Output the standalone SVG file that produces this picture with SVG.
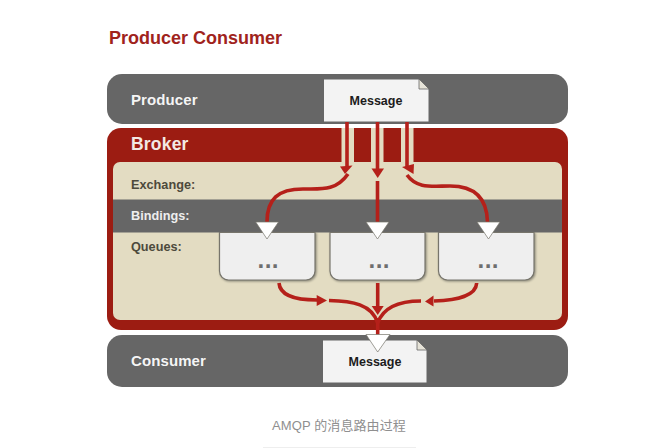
<svg xmlns="http://www.w3.org/2000/svg" width="659" height="448" viewBox="0 0 659 448">
  <style>
    text { font-family: "Liberation Sans", Arial, "Noto Sans CJK SC", sans-serif; font-weight: 700; }
    .band { fill: #666666; }
    .lane { fill: #ffffff; font-size: 15px; letter-spacing: 0.1px; fill-opacity: 0.95; }
    .row { font-size: 12.7px; fill: #4d4a3c; }
    .queue { fill: #efefef; stroke: #77756c; stroke-width: 1.2; filter: drop-shadow(1px 1px 1px #8a8778); }
    .dots { font-family: "DejaVu Sans", sans-serif; font-size: 19px; fill: #6e6e6e; text-anchor: middle; }
    .msg { fill: #f3f3f3; stroke: #666666; stroke-width: 1; }
    .fold { fill: #e6e3d8; stroke: #666666; stroke-width: 0.8; }
    .msgt { font-size: 12.5px; fill: #1c1c1c; text-anchor: middle; }
    .wire { fill: none; stroke: #b5201a; stroke-width: 3.6; }
    .head { fill: #b5201a; }
    .tip { fill: #ffffff; stroke: #77756c; stroke-width: 0.7; }
    .slot { fill: #e3dcc2; }
  </style>
  <rect width="659" height="448" fill="#ffffff"/>
  <text x="109" y="44" font-size="18" fill="#a0231c">Producer Consumer</text>

  <g id="producer">
    <rect class="band" x="107" y="74" width="461" height="50" rx="15"/>
    <text class="lane" x="131" y="105">Producer</text>
  </g>
  <g id="broker">
    <rect x="107" y="128" width="461" height="202" rx="14" fill="#9c1c12"/>
    <rect x="113" y="162" width="449" height="158" rx="7" fill="#e3dcc2"/>
    <rect class="slot" x="341.500" y="128" width="12.500" height="36"/>
    <rect class="slot" x="371" y="128" width="12.500" height="36"/>
    <rect class="slot" x="401" y="128" width="12.500" height="36"/>
    <text x="131" y="150" font-size="17.500" fill="#f3e9e4" letter-spacing="0.2">Broker</text>
  </g>
  <g id="exchange">
    <text class="row" x="131" y="189">Exchange:</text>
  </g>
  <g id="bindings">
    <rect class="band" x="113" y="199.500" width="449" height="33"/>
    <text class="row" x="131" y="220" style="fill:#eeeeee">Bindings:</text>
  </g>
  <g id="queues">
    <text class="row" x="131" y="251">Queues:</text>
  </g>
  <g id="queue-1">
    <path class="queue" d="M219.500,232.500H315V271a9,9 0 0 1 -9,9H228.500a9,9 0 0 1 -9,-9Z"/>
    <text class="dots" x="268" y="268">...</text>
  </g>
  <g id="queue-2">
    <path class="queue" d="M330,232.500H425V271a9,9 0 0 1 -9,9H339a9,9 0 0 1 -9,-9Z"/>
    <text class="dots" x="379" y="268">...</text>
  </g>
  <g id="queue-3">
    <path class="queue" d="M438.500,232.500H534V271a9,9 0 0 1 -9,9H447.500a9,9 0 0 1 -9,-9Z"/>
    <text class="dots" x="488" y="268">...</text>
  </g>
  <g id="consumer">
    <rect class="band" x="107" y="335" width="461" height="52" rx="15"/>
    <text class="lane" x="131" y="366">Consumer</text>
  </g>
  <g id="message-in">
    <path class="msg" d="M323.500,79H419L429,89V122H323.500Z"/>
    <path class="fold" d="M419,79L429,89H419Z"/>
    <text class="msgt" x="376" y="104.500">Message</text>
  </g>
  <g id="message-out">
    <path class="msg" d="M322.500,340H417L427,350V383H322.500Z"/>
    <path class="fold" d="M417,340L427,350H417Z"/>
    <text class="msgt" x="375" y="366">Message</text>
  </g>

  <g id="connectors">
    <path class="wire" d="M347,122V167"/>
    <path class="wire" d="M377.500,122V170"/>
    <path class="wire" d="M407,122V167"/>
    <path class="head" d="M340,166.500L352.500,165.500L345,174Z"/>
    <path class="head" d="M371.500,168.500H384L377.700,178Z"/>
    <path class="head" d="M402,167L414,164L413.500,174Z"/>
    <path class="wire" d="M348,174C336,191 322,189 303,189C278,189 267,199 267,222"/>
    <path class="wire" d="M377.500,181V222"/>
    <path class="wire" d="M407,175C417,189 432,186 450,186C476,186 487,199 487.500,222"/>
    <path class="wire" d="M279,283C280,296 296,300 317,300"/>
    <path class="head" d="M316.700,295V306L327,300.500Z"/>
    <path class="wire" d="M476.700,283C476,296 458,300 434,301"/>
    <path class="head" d="M433.500,295.500V306.500L425,301.500Z"/>
    <path class="wire" d="M377.700,283V307"/>
    <path class="head" d="M371.700,306H383.700L377.700,315Z"/>
    <path class="wire" d="M329,300.500C352,301 372,304 377.700,323"/>
    <path class="wire" d="M421,301C402,301 384,305 377.700,323"/>
    <path class="wire" d="M377.700,318V336" stroke-width="5"/>
    <path class="tip" d="M255.700,222H278.500L267,239Z"/>
    <path class="tip" d="M366,222H389L377.500,239Z"/>
    <path class="tip" d="M477,222H500L488.500,239Z"/>
    <path class="tip" d="M366,334.500H390L377.700,352Z"/>
  </g>

  <text x="339" y="430" font-size="13" text-anchor="middle" style="font-weight:400;letter-spacing:0.1px" fill="#8f8f8f">AMQP 的消息路由过程</text>
  <rect x="263" y="447" width="153" height="1" fill="#eeeeee"/>
</svg>
